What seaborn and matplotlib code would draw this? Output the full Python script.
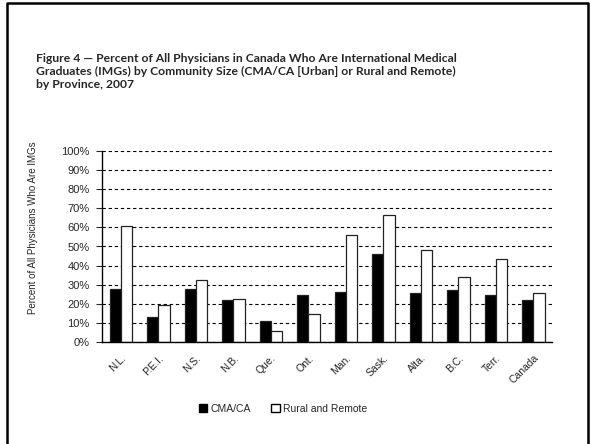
import matplotlib
matplotlib.use("Agg")
import matplotlib.pyplot as plt
import matplotlib.patches as mpatches
import numpy as np
import pandas as pd
import seaborn as sns

provinces = ["N.L.", "P.E.I.", "N.S.", "N.B.", "Que.", "Ont.", "Man.",
             "Sask.", "Alta.", "B.C.", "Terr.", "Canada"]
cma_ca = [27.9, 13.1, 27.9, 22.0, 11.1, 24.6, 26.0, 46.2, 25.4, 27.4, 24.7, 22.1]
rural_remote = [60.8, 19.5, 32.4, 22.3, 5.9, 14.5, 55.9, 66.6, 48.4, 34.1, 43.4, 25.4]
series = ["CMA/CA", "Rural and Remote"]
yticks = list(range(0, 101, 10))

df = pd.DataFrame({
    "province": provinces * 2,
    "pct": cma_ca + rural_remote,
    "type": [series[0]] * len(provinces) + [series[1]] * len(provinces),
})

sns.set_style("white")
plt.rcParams["font.family"] = ["Liberation Sans", "DejaVu Sans"]

fig = plt.figure(figsize=(5.91, 4.44), dpi=100)
ax = fig.add_axes([102 / 591, 1 - 342 / 444, 450 / 591, 191 / 444])

sns.barplot(
    data=df, x="province", y="pct", hue="type", order=provinces,
    hue_order=series, palette=["black", "white"], width=0.6, gap=0,
    edgecolor="#222222", linewidth=0.9, legend=False, ax=ax,
)

ax.set_xlim(-0.5, len(provinces) - 0.5)
ax.set_ylim(0, 100)
ax.set_yticks(yticks)
ax.set_yticklabels([f"{t}%" for t in yticks], fontsize=8)
ax.yaxis.grid(True, linestyle=(0, (3, 2.5)), color="black", linewidth=0.8)
ax.set_axisbelow(True)

ax.set_xticks(range(len(provinces)))
ax.set_xticklabels(provinces, rotation=45, ha="right", rotation_mode="anchor",
                   fontsize=7.5)
ax.set_xticks(np.arange(-0.5, len(provinces), 1), minor=True)
ax.tick_params(axis="x", which="major", length=0, pad=8)
ax.tick_params(axis="x", which="minor", length=4, width=0.8, direction="out")
ax.tick_params(axis="y", length=4, width=0.8, direction="out", left=True, pad=5)

for side in ["top", "right"]:
    ax.spines[side].set_visible(False)
for side in ["left", "bottom"]:
    ax.spines[side].set_color("black")
    ax.spines[side].set_linewidth(1.0)

ax.set_xlabel("")
ax.set_ylabel("Percent of All Physicians Who Are IMGs", fontsize=7)
ax.yaxis.set_label_coords(-0.142, 0.60)

handles = [
    mpatches.Patch(facecolor="black", edgecolor="black", label=series[0]),
    mpatches.Patch(facecolor="white", edgecolor="black", label=series[1]),
]
fig.legend(handles=handles, loc="center", bbox_to_anchor=(283 / 591, 1 - 409 / 444),
           ncol=2, frameon=False, fontsize=7.5, handlelength=0.8,
           handleheight=0.8, handletextpad=0.3, columnspacing=2.0)

fig.text(36 / 591, 1 - 53 / 444,
         "Figure 4 \u2014 Percent of All Physicians in Canada Who Are International Medical\n"
         "Graduates (IMGs) by Community Size (CMA/CA [Urban] or Rural and Remote)\n"
         "by Province, 2007",
         fontsize=8.7, fontweight="bold", family=["Lato", "DejaVu Sans"],
         va="top", ha="left", linespacing=1.22)

# slide border
fig.add_artist(plt.Line2D([7 / 591, 7 / 591, 588 / 591, 588 / 591],
                          [0, 1 - 3 / 444, 1 - 3 / 444, 0],
                          transform=fig.transFigure, color="black", linewidth=1.8))

fig.savefig("out.png", dpi=100)
plt.close(fig)
